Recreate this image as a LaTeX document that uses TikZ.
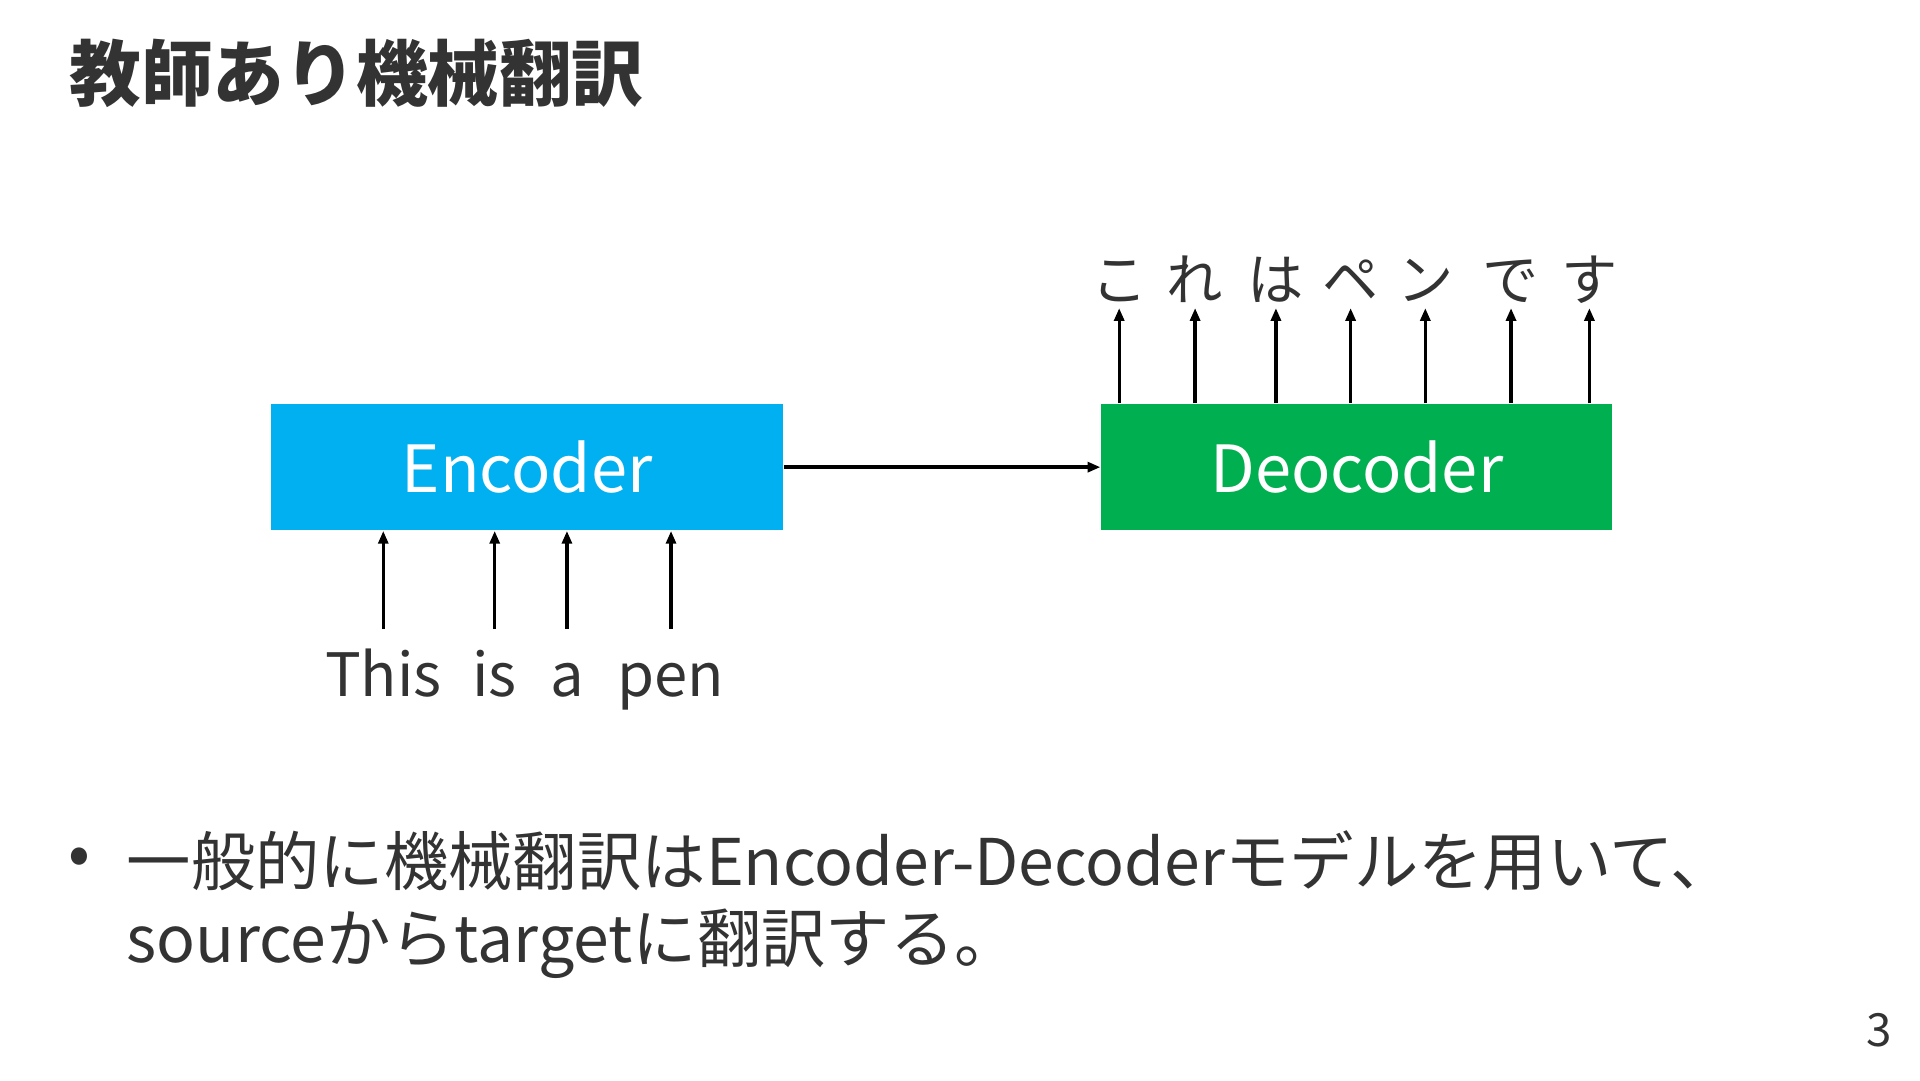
\documentclass[tikz,border=0pt]{standalone}
\usepackage{fontspec}
\setmainfont{Noto Sans CJK JP}
\usetikzlibrary{arrows.meta}
\definecolor{encblue}{HTML}{00B0F0}
\definecolor{decgreen}{HTML}{00B050}
\definecolor{txt}{HTML}{333333}

\begin{document}
\begin{tikzpicture}[x=0.012245cm, y=0.012245cm,
	box/.style={minimum width=5.11cm, minimum height=1.261cm, inner sep=0pt, text=white, font=\fontsize{18.5}{22}\selectfont},
	src/.style={anchor=base, inner sep=0pt, text height=19pt, text=txt, font=\fontsize{17}{20}\selectfont},
	tgt/.style={anchor=base, inner sep=0pt, inner ysep=2.1pt, text depth=0pt, text=txt, font=\fontsize{16}{19}\selectfont},
	arr/.style={-{Triangle[length=3.6pt,width=2.8pt]}, line width=0.95pt}]
	\useasboundingbox (0,0) rectangle (1568,882);
	\node[anchor=base west, inner sep=0pt, text=txt, font=\bfseries\fontsize{20.4}{24}\selectfont] (title) at (56,800) {教師あり機械翻訳};

	\node[box, fill=encblue] (enc) at (430.5,500.5) {Encoder};
	\node[box, fill=decgreen] (dec) at (1108,500.5) {Deocoder};
	\draw[arr] (enc) -- (dec);

	\node[src] (this) at (313,313) {This};
	\node[src] (is) at (404,313) {is};
	\node[src] (a) at (463,313) {a};
	\node[src] (pen) at (548,313) {pen};
	\draw[arr] (this.north) -- (this.north |- enc.south);
	\draw[arr] (is.north) -- (is.north |- enc.south);
	\draw[arr] (a.north) -- (a.north |- enc.south);
	\draw[arr] (pen.north) -- (pen.north |- enc.south);

	\node[tgt] (ko) at (914,637) {こ};
	\node[tgt] (re) at (976,637) {れ};
	\node[tgt] (ha) at (1042,637) {は};
	\node[tgt] (pe) at (1103,637) {ペ};
	\node[tgt] (n) at (1164,637) {ン};
	\node[tgt] (de) at (1234,637) {で};
	\node[tgt] (su) at (1298,637) {す};
	\draw[arr] (ko.south |- dec.north) -- (ko.south);
	\draw[arr] (re.south |- dec.north) -- (re.south);
	\draw[arr] (ha.south |- dec.north) -- (ha.south);
	\draw[arr] (pe.south |- dec.north) -- (pe.south);
	\draw[arr] (n.south |- dec.north) -- (n.south);
	\draw[arr] (de.south |- dec.north) -- (de.south);
	\draw[arr] (su.south |- dec.north) -- (su.south);

	\node[inner sep=0pt, text=txt, font=\fontsize{18.3}{22}\selectfont] (dot) at (65,178) {•};
	\node[anchor=base west, inner sep=0pt, text=txt, font=\fontsize{18.3}{22}\selectfont] (line1) at (103,159) {一般的に機械翻訳はEncoder-Decoderモデルを用いて、};
	\node[anchor=base west, inner sep=0pt, text=txt, font=\fontsize{18.3}{22}\selectfont] (line2) at (103,96) {sourceからtargetに翻訳する。};

	\node[inner sep=0pt, text=txt, font=\fontsize{13}{16}\selectfont] (page) at (1535,41) {3};
\end{tikzpicture}
\end{document}
